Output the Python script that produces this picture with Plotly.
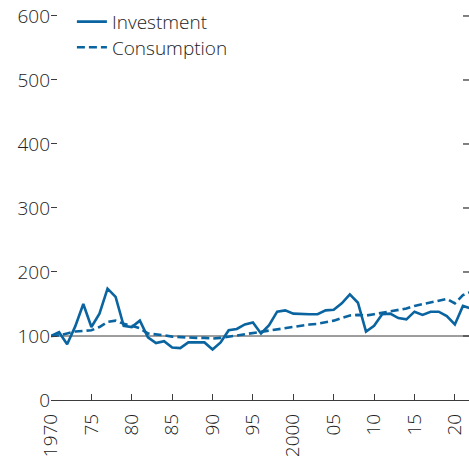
import plotly.graph_objects as go

years = list(range(1970, 2023))

investment = [
    100, 106, 87, 115, 150, 114, 135, 174, 161, 116,
    114, 124, 98, 89, 92, 82, 81, 90, 90, 90,
    79, 90, 109, 111, 118, 121, 104, 117, 138, 140,
    135, 134, 134, 134, 140, 141, 151, 165, 152, 107,
    116, 134, 135, 128, 126, 138, 133, 138, 138, 131,
    118, 147, 143,
]

consumption = [
    100, 101, 104, 107, 108, 109, 114, 122, 124, 119,
    116, 112, 104, 103, 101, 99, 98, 98, 97, 97,
    96, 97, 99, 100, 103, 105, 107, 109, 111, 113,
    114, 116, 118, 119, 121, 124, 128, 132, 133, 132,
    134, 136, 138, 141, 143, 147, 150, 153, 155, 158,
    151, 164, 169,
]

x_ticks = [1970, 1975, 1980, 1985, 1990, 1995, 2000, 2005, 2010, 2015, 2020]
x_tick_text = ["1970", "75", "80", "85", "90", "95", "2000", "05", "10", "15", "20"]
y_ticks = [0, 100, 200, 300, 400, 500, 600]

BLUE = "#0a64a0"
GREY = "#3c3c3c"
TEXT = "#222222"
FONT = "Open Sans"

tick_font = dict(family=FONT, size=19, color=TEXT, weight=300)
legend_font = dict(family=FONT, size=19, color=TEXT, weight=300)

fig = go.Figure()
fig.add_trace(go.Scatter(
    x=years, y=investment, name="Investment", mode="lines",
    line=dict(color=BLUE, width=2.6), legend="legend",
))
fig.add_trace(go.Scatter(
    x=years, y=consumption, name="Consumption", mode="lines",
    line=dict(color=BLUE, width=2.6, dash="8px,4px"), legend="legend2",
))

# reference line at the base-year index level
fig.add_shape(type="line", xref="paper", x0=0, x1=1, yref="y", y0=100, y1=100,
              line=dict(color=GREY, width=1), layer="below")

# short tick marks along the right edge, one per y tick
for v in y_ticks[1:]:
    fig.add_shape(type="line", xref="paper", xsizemode="pixel", xanchor=1,
                  x0=-6, x1=0, yref="y", y0=v, y1=v,
                  line=dict(color=GREY, width=1.3))

legend_common = dict(
    x=0.050, xanchor="left", yanchor="middle",
    bgcolor="rgba(0,0,0,0)", borderwidth=0, font=legend_font,
)

fig.update_layout(
    width=469, height=456,
    margin=dict(l=51, r=0, t=6, b=56),
    paper_bgcolor="white", plot_bgcolor="white",
    font=dict(family=FONT, size=19, color=TEXT, weight=300),
    showlegend=True,
    legend=dict(y=0.960, **legend_common),
    legend2=dict(y=0.895, **legend_common),
    xaxis=dict(
        range=[1970, 2021.75],
        tickmode="array", tickvals=x_ticks, ticktext=x_tick_text,
        tickangle=-90, ticklabelstandoff=5,
        ticks="inside", ticklen=6, tickwidth=1.2, tickcolor=GREY,
        showline=True, linecolor=GREY, linewidth=1.4,
        showgrid=False, zeroline=False,
        tickfont=tick_font,
    ),
    yaxis=dict(
        range=[0, 615.6],
        tickmode="array", tickvals=y_ticks,
        ticksuffix="\u00a0",
        ticks="inside", ticklen=6, tickwidth=1.3, tickcolor=GREY,
        showline=False, showgrid=False, zeroline=False,
        tickfont=tick_font,
    ),
)

fig.write_html("out.html")
